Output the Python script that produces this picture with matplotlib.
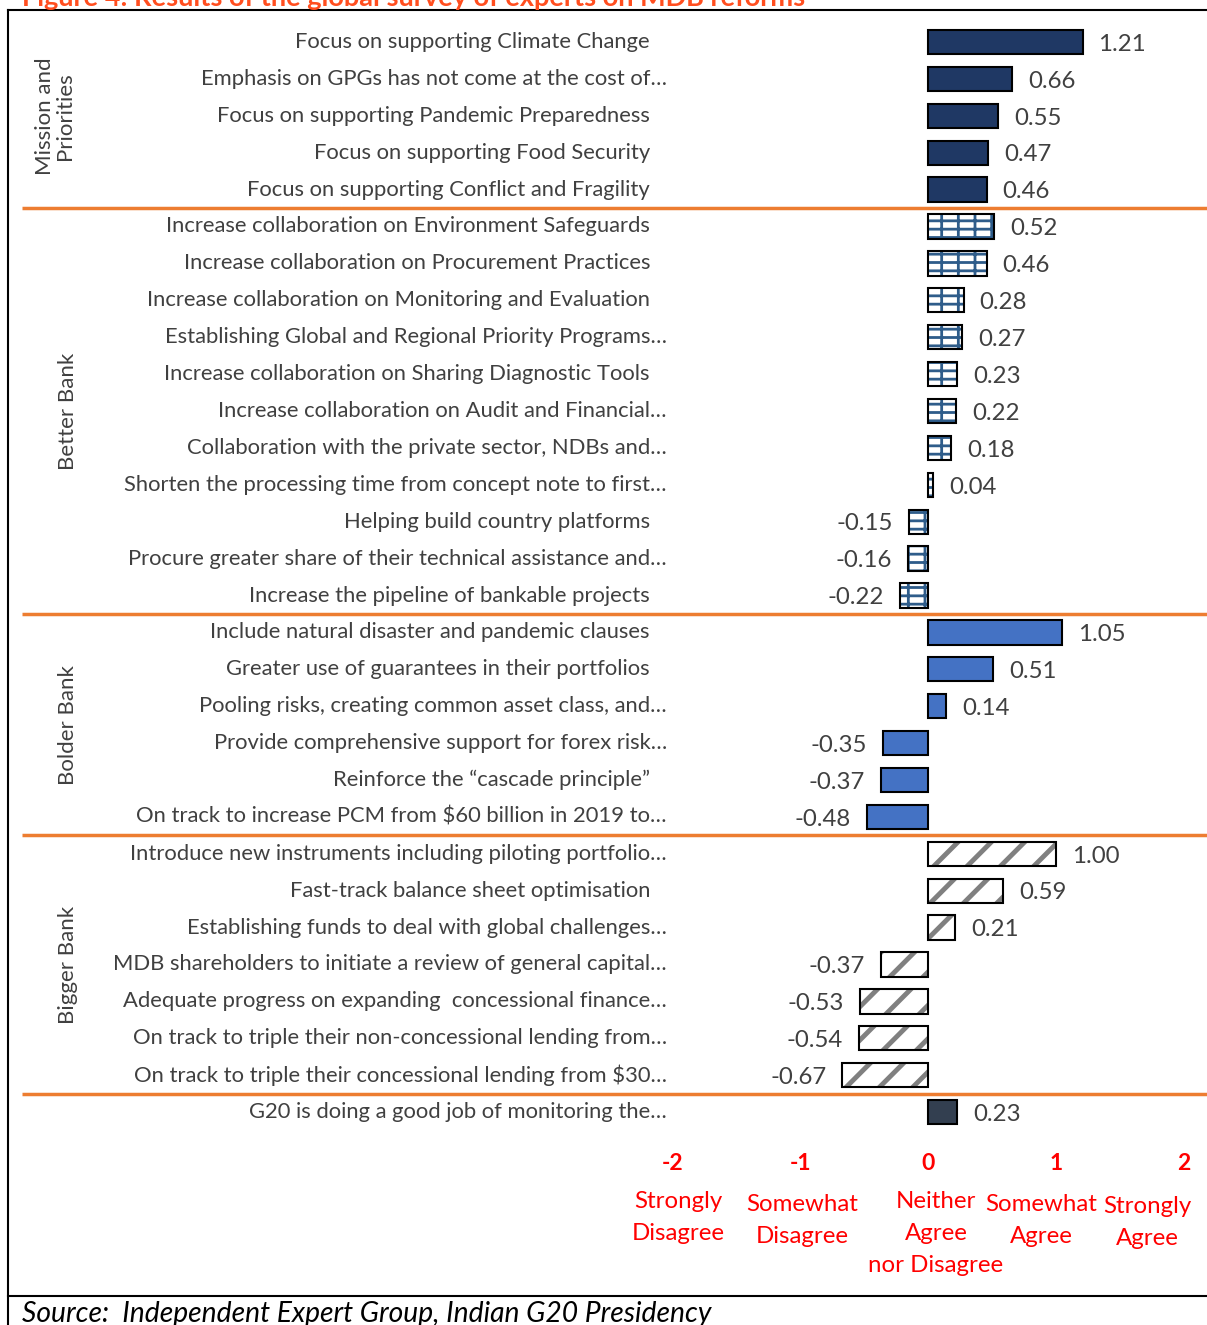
import numpy as np
import matplotlib
matplotlib.use("Agg")
import matplotlib.pyplot as plt

# =========================
# DATA
# =========================
mission_labels = ["Focus on supporting Climate Change",
                  "Emphasis on GPGs has not come at the cost of…",
                  "Focus on supporting Pandemic Preparedness",
                  "Focus on supporting Food Security",
                  "Focus on supporting Conflict and Fragility"]
mission_values = [1.21, 0.66, 0.55, 0.47, 0.46]

better_labels = ["Increase collaboration on Environment Safeguards",
                 "Increase collaboration on Procurement Practices",
                 "Increase collaboration on Monitoring and Evaluation",
                 "Establishing Global and Regional Priority Programs…",
                 "Increase collaboration on Sharing Diagnostic Tools",
                 "Increase collaboration on Audit and Financial…",
                 "Collaboration with the private sector, NDBs and…",
                 "Shorten the processing time from concept note to first…",
                 "Helping build country platforms",
                 "Procure greater share of their technical assistance and…",
                 "Increase the pipeline of bankable projects"]
better_values = [0.52, 0.46, 0.28, 0.27, 0.23, 0.22, 0.18, 0.04, -0.15, -0.16, -0.22]

bolder_labels = ["Include natural disaster and pandemic clauses",
                 "Greater use of guarantees in their portfolios",
                 "Pooling risks, creating common asset class, and…",
                 "Provide comprehensive support for forex risk…",
                 "Reinforce the \u201ccascade principle\u201d",
                 "On track to increase PCM from $60 billion in 2019 to…"]
bolder_values = [1.05, 0.51, 0.14, -0.35, -0.37, -0.48]

bigger_labels = ["Introduce new instruments including piloting portfolio…",
                 "Fast-track balance sheet optimisation",
                 "Establishing funds to deal with global challenges…",
                 "MDB shareholders to initiate a review of general capital…",
                 "Adequate progress on expanding  concessional finance…",
                 "On track to triple their non-concessional lending from…",
                 "On track to triple their concessional lending from $30…"]
bigger_values = [1.00, 0.59, 0.21, -0.37, -0.53, -0.54, -0.67]

g20_labels = ["G20 is doing a good job of monitoring the…"]
g20_values = [0.23]

group_names = ["Mission and\nPriorities", "Better Bank", "Bolder Bank", "Bigger Bank", ""]

scale_ticks = [-2, -1, 0, 1, 2]
scale_names = ["Strongly\nDisagree", "Somewhat\nDisagree", "Neither\nAgree\nnor Disagree",
               "Somewhat\nAgree", "Strongly\nAgree"]

# =========================
# STYLE
# =========================
plt.rcParams["font.family"] = ["Lato", "DejaVu Sans"]
TXT = "#404040"
ORANGE = "#ED7D31"
RED = "#FF0000"

W, H = 1207, 1325
fig = plt.figure(figsize=(W / 100, H / 100), dpi=100)
ax = fig.add_axes([0, 0, 1, 1])

# pixel mapping: value 0 at x=928, 127.7 px per unit; row 0 at y=42, 36.9 px per row
X0, XS = 928.0, 127.7
Y0, YS = 42.0, 36.9
ax.set_xlim((0 - X0) / XS, (W - X0) / XS)
ax.set_ylim((H - Y0) / YS, (0 - Y0) / YS)
ax.axis("off")


def px_x(p):
    return (p - X0) / XS


def px_y(p):
    return (p - Y0) / YS


groups = [
    (mission_labels, mission_values, dict(color="#1F3864", hatch=None)),
    (better_labels, better_values, dict(color="white", hatch="--|", hcol="#2E5C8A", hlw=2.0)),
    (bolder_labels, bolder_values, dict(color="#4472C4", hatch=None)),
    (bigger_labels, bigger_values, dict(color="white", hatch="/", hcol="#808080", hlw=3.5)),
    (g20_labels, g20_values, dict(color="#333F50", hatch=None)),
]

bar_h = 0.66
row = 0
for gi, (labs, vals, st) in enumerate(groups):
    ys = np.arange(row, row + len(labs))
    if st["hatch"]:
        plt.rcParams["hatch.linewidth"] = st["hlw"]
        bars = ax.barh(ys, vals, height=bar_h, color=st["color"],
                       edgecolor=st["hcol"], hatch=st["hatch"], linewidth=0)
        for b in bars:
            try:
                b.set_hatch_linewidth(st["hlw"])
            except AttributeError:
                pass
    ax.barh(ys, vals, height=bar_h, color=st["color"] if not st["hatch"] else "none",
            edgecolor="black", linewidth=1.5)

    for y, lab, v in zip(ys, labs, vals):
        xr = px_x(667) if lab.endswith("…") else px_x(650)
        ax.text(xr, y, lab, ha="right", va="center", fontsize=15.8, color=TXT)
        if v >= 0:
            ax.text(v + 0.125, y + 0.06, f"{v:.2f}", ha="left", va="center",
                    fontsize=17.3, color=TXT)
        else:
            ax.text(v - 0.125, y + 0.06, f"{v:.2f}", ha="right", va="center",
                    fontsize=17.3, color=TXT)

    # group label
    if group_names[gi]:
        yc = (ys[0] + ys[-1]) / 2
        gx = px_x(55) if "\n" in group_names[gi] else px_x(68)
        ax.text(gx, yc, group_names[gi], rotation=90, ha="center", va="center",
                fontsize=16, color=TXT, linespacing=1.0)

    row += len(labs)
    if gi < len(groups) - 1:
        ax.plot([px_x(22), px_x(W)], [row - 0.5, row - 0.5], color=ORANGE, lw=2.5,
                solid_capstyle="butt")

# =========================
# SCALE LABELS
# =========================
name_x = [678, 802, 936, 1041, 1147]
name_y = [1191, 1194, 1191, 1194, 1196]
for t, nm, nx, ny in zip(scale_ticks, scale_names, name_x, name_y):
    ax.text(t, px_y(1163), str(t), ha="center", va="center", fontsize=16.5,
            fontweight="bold", color=RED)
    ax.text(px_x(nx), px_y(ny), nm, ha="center", va="top", fontsize=17.3,
            color=RED, linespacing=1.64)

# =========================
# FRAME, TITLE, SOURCE
# =========================
ax.plot([px_x(8), px_x(W)], [px_y(10), px_y(10)], color="black", lw=1.5, clip_on=False)
ax.plot([px_x(8), px_x(8)], [px_y(10), px_y(H)], color="black", lw=1.5, clip_on=False)
ax.plot([px_x(8), px_x(W)], [px_y(1296), px_y(1296)], color="black", lw=1.5, clip_on=False)

fig.text(22 / W, 1 - 6 / H, "Figure 4: Results of the global survey of experts on MDB reforms",
         ha="left", va="baseline", fontsize=19.5, fontweight="bold", color="#FF4E1F")
fig.text(22 / W, 1 - 1322 / H, "Source:  Independent Expert Group, Indian G20 Presidency",
         ha="left", va="baseline", fontsize=20.3, style="italic", color="black")

fig.savefig("out.png", dpi=100)
